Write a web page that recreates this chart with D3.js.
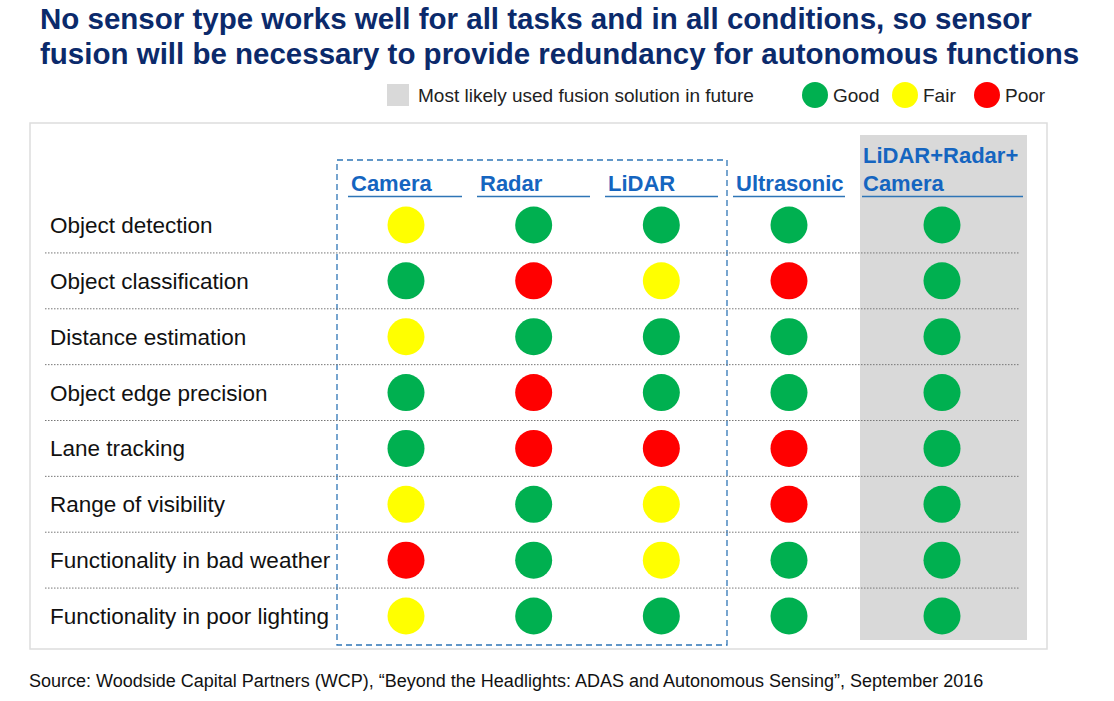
<!DOCTYPE html>
<html><head><meta charset="utf-8">
<script src="https://cdn.jsdelivr.net/npm/d3@7"></script>
<style>body{margin:0;background:#fff;font-family:Arial,"Liberation Sans",sans-serif}</style>
</head><body><svg id="chart" width="1114" height="701"></svg>
<script>
var columns = ["Camera", "Radar", "LiDAR", "Ultrasonic", "LiDAR+Radar+Camera"];
var rows = ["Object detection", "Object classification", "Distance estimation", "Object edge precision",
            "Lane tracking", "Range of visibility", "Functionality in bad weather", "Functionality in poor lighting"];
// one array per column, values per row: G = good, F = fair, P = poor
var camera     = ["F","G","F","G","G","F","P","F"];
var radar      = ["G","P","G","P","P","G","G","G"];
var lidar      = ["G","F","G","G","P","F","F","G"];
var ultrasonic = ["G","P","G","G","P","P","G","G"];
var fusion     = ["G","G","G","G","G","G","G","G"];
var ratings = [camera, radar, lidar, ultrasonic, fusion];
var legendItems = [{key:"G",label:"Good"},{key:"F",label:"Fair"},{key:"P",label:"Poor"}];

var color = d3.scaleOrdinal().domain(["G","F","P"]).range(["#00b050","#ffff00","#ff0000"]);
var x = d3.scalePoint().domain(columns.slice(0, 4)).range([406, 789]);
var xPos = function(c, i) { return i < 4 ? x(c) : 942; };
var y = d3.scalePoint().domain(rows).range([225, 616]);
var rowStep = y.step();

var svg = d3.select("#chart");

// title
svg.append("text").attr("x", 40).attr("y", 29).attr("fill", "#0b2a6b")
  .attr("font-size", 29.5).attr("font-weight", "bold")
  .text("No sensor type works well for all tasks and in all conditions, so sensor");
svg.append("text").attr("x", 40).attr("y", 64).attr("fill", "#0b2a6b")
  .attr("font-size", 29.5).attr("font-weight", "bold")
  .text("fusion will be necessary to provide redundancy for autonomous functions");

// legend
svg.append("rect").attr("x", 387).attr("y", 84).attr("width", 22).attr("height", 22).attr("fill", "#d9d9d9");
svg.append("text").attr("x", 418).attr("y", 102).attr("font-size", 19).attr("fill", "#222")
  .text("Most likely used fusion solution in future");
var lx = [815, 905, 987];
legendItems.forEach(function(d, i) {
  svg.append("circle").attr("cx", lx[i]).attr("cy", 95).attr("r", 13).attr("fill", color(d.key));
  svg.append("text").attr("x", lx[i] + 18).attr("y", 102).attr("font-size", 19).attr("fill", "#222").text(d.label);
});

// panel
svg.append("rect").attr("x", 30).attr("y", 123).attr("width", 1017).attr("height", 526)
  .attr("fill", "#fff").attr("stroke", "#ddd").attr("stroke-width", 1.5);
svg.append("rect").attr("x", 860).attr("y", 135).attr("width", 167).attr("height", 505).attr("fill", "#d9d9d9");
svg.append("rect").attr("x", 337).attr("y", 160).attr("width", 390).attr("height", 485)
  .attr("fill", "none").attr("stroke", "#2e75b6").attr("stroke-width", 1.3).attr("stroke-dasharray", "6,4");

// headers
var hdr = [[348,462],[477,590],[605,718],[733,845],[862,1023]];
columns.forEach(function(c, i) {
  var g = svg.append("g");
  if (i < 4) {
    g.append("text").attr("x", hdr[i][0] + 3).attr("y", 191).attr("font-size", 22).attr("font-weight", "bold")
      .attr("fill", "#1565c0").text(c);
  } else {
    g.append("text").attr("x", hdr[i][0] + 1).attr("y", 163).attr("font-size", 22).attr("font-weight", "bold")
      .attr("fill", "#1565c0").text("LiDAR+Radar+");
    g.append("text").attr("x", hdr[i][0] + 1).attr("y", 191).attr("font-size", 22).attr("font-weight", "bold")
      .attr("fill", "#1565c0").text("Camera");
  }
  g.append("line").attr("x1", hdr[i][0]).attr("x2", hdr[i][1]).attr("y1", 196.5).attr("y2", 196.5)
    .attr("stroke", "#2e75b6").attr("stroke-width", 1.3);
});

// row labels and separators
rows.forEach(function(r, i) {
  svg.append("text").attr("x", 50).attr("y", y(r) + 8).attr("font-size", 22.5).attr("fill", "#111").text(r);
  if (i < rows.length - 1) {
    svg.append("line").attr("x1", 45).attr("x2", 1020).attr("y1", y(r) + rowStep / 2).attr("y2", y(r) + rowStep / 2)
      .attr("stroke", "#777").attr("stroke-width", 1).attr("stroke-dasharray", "1.5,1.5");
  }
});

// dots
ratings.forEach(function(col, ci) {
  svg.append("g").selectAll("circle").data(col).join("circle")
    .attr("cx", xPos(columns[ci], ci))
    .attr("cy", function(d, ri) { return y(rows[ri]); })
    .attr("r", 18.5)
    .attr("fill", function(d) { return color(d); });
});

svg.append("text").attr("x", 29).attr("y", 687).attr("font-size", 18).attr("fill", "#111")
  .text("Source: Woodside Capital Partners (WCP), \u201cBeyond the Headlights: ADAS and Autonomous Sensing\u201d, September 2016");
</script></body></html>
